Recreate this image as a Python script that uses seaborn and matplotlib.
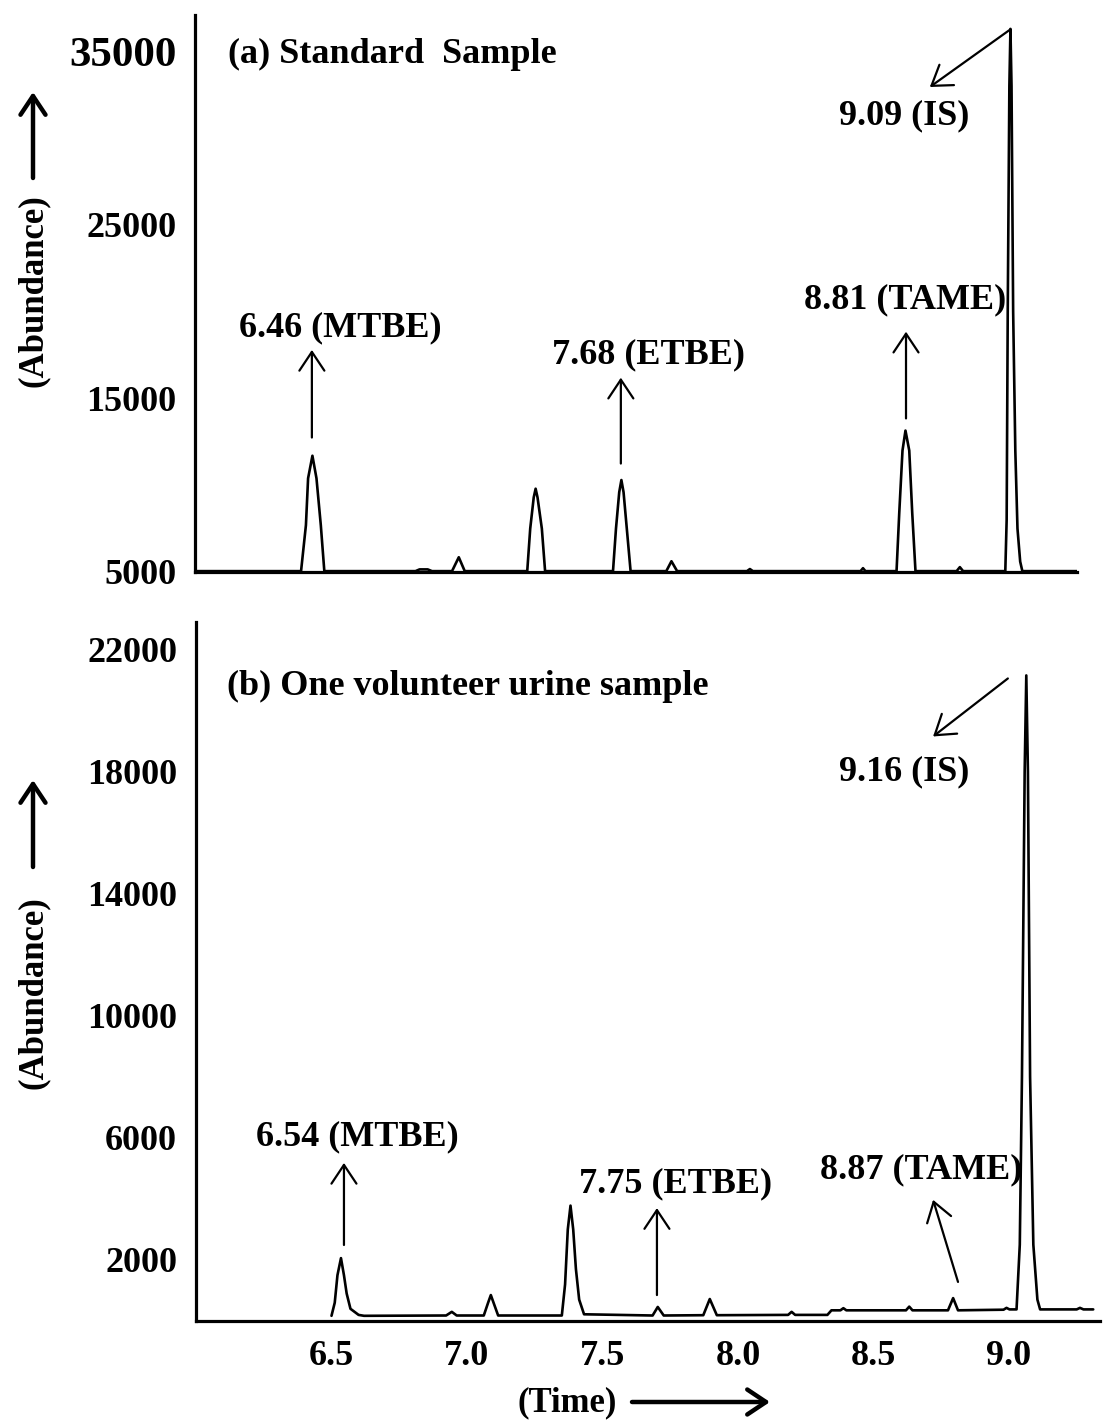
import matplotlib
matplotlib.use("Agg")
import matplotlib.pyplot as plt
import seaborn as sns
import pandas as pd

# ---------------- data ----------------
# (a) Standard sample: retention time (min) vs abundance
time_a = [6.000, 6.392, 6.410, 6.418, 6.434, 6.449, 6.465, 6.478,
          6.815, 6.830, 6.860, 6.876, 6.950, 6.975, 6.997,
          7.228, 7.239, 7.252, 7.259, 7.266, 7.282, 7.294,
          7.545, 7.556, 7.568, 7.576, 7.584, 7.596, 7.610,
          7.742, 7.761, 7.782, 8.040, 8.051, 8.062, 8.460, 8.469, 8.478,
          8.593, 8.603, 8.615, 8.626, 8.640, 8.651, 8.663,
          8.815, 8.827, 8.839,
          8.995, 9.000, 9.004, 9.010, 9.014, 9.018, 9.024, 9.032, 9.040, 9.050, 9.058,
          9.260]
abund_a = [5050, 5050, 7700, 10400, 11700, 10400, 7700, 5050,
           5050, 5150, 5150, 5050, 5050, 5850, 5050,
           5050, 7500, 9300, 9800, 9300, 7500, 5050,
           5050, 7500, 9600, 10300, 9600, 7500, 5050,
           5050, 5620, 5050, 5050, 5170, 5050, 5050, 5220, 5050,
           5050, 8400, 12000, 13150, 12000, 8400, 5050,
           5050, 5280, 5050,
           5050, 8000, 20000, 33000, 36300, 33000, 20000, 12000, 7500, 5600, 5050,
           5050]

# (b) One volunteer urine sample
time_b = [6.500, 6.512, 6.522, 6.535, 6.546, 6.556, 6.570, 6.600, 6.620,
          6.923, 6.944, 6.962,
          7.062, 7.078, 7.088, 7.098, 7.115,
          7.350, 7.362, 7.372, 7.382, 7.392, 7.402, 7.414, 7.432,
          7.685, 7.704, 7.726,
          7.872, 7.896, 7.922,
          8.185, 8.198, 8.211, 8.330, 8.345,
          8.378, 8.389, 8.400, 8.620, 8.632, 8.644,
          8.775, 8.794, 8.812,
          8.980, 8.991, 9.002,
          9.028, 9.040, 9.048, 9.058, 9.064, 9.070, 9.078, 9.090, 9.105, 9.115,
          9.250, 9.262, 9.275, 9.311]
abund_b = [170, 600, 1500, 2060, 1500, 900, 400, 200, 170,
           180, 300, 180,
           180, 600, 850, 600, 180,
           180, 1200, 3000, 3780, 3000, 1700, 700, 220,
           180, 460, 180,
           190, 720, 190,
           200, 300, 200, 200, 350,
           350, 420, 350, 350, 470, 350,
           350, 750, 350,
           370, 430, 380,
           380, 2500, 8000, 18000, 21150, 18000, 8000, 2500, 700, 380,
           380, 430, 380, 380]

# tick values / labels
x_ticks = [6.0, 6.5, 7.0, 7.5, 8.0, 8.5, 9.0]
x_labels_b = ["", "6.5", "7.0", "7.5", "8.0", "8.5", "9.0"]
y_ticks_a = [5000, 10000, 15000, 20000, 25000, 30000, 35000]
y_labels_a = ["5000", "", "15000", "", "25000", "", "35000"]
y_ticks_b = [0, 2000, 4000, 6000, 8000, 10000, 12000, 14000, 16000, 18000, 20000, 22000]
y_labels_b = ["", "2000", "", "6000", "", "10000", "", "14000", "", "18000", "", "22000"]

# peak annotations: text, text position, arrow tail, arrow head
ann_a = [("6.46 (MTBE)", (6.536, 19100), (6.432, 12750), (6.432, 17800)),
         ("7.68 (ETBE)", (7.678, 17500), (7.574, 11250), (7.574, 16200)),
         ("8.81 (TAME)", (8.624, 20700), (8.628, 13850), (8.628, 18850)),
         ("9.09 (IS)",   (8.620, 31300), (9.012, 36250), (8.716, 32950))]
ann_b = [("6.54 (MTBE)", (6.594, 6050), (6.546, 2490), (6.546, 5180)),
         ("7.75 (ETBE)", (7.771, 4500), (7.701, 850), (7.701, 3700)),
         ("8.87 (TAME)", (8.675, 4950), (8.812, 1280), (8.720, 3970)),
         ("9.16 (IS)",   (8.613, 18000), (8.996, 21050), (8.720, 19150))]

title_a = "(a) Standard  Sample"
title_b = "(b) One volunteer urine sample"

# ---------------- style ----------------
sns.set_theme(style="white")
plt.rcParams["font.family"] = ["Liberation Serif", "DejaVu Serif"]
plt.rcParams["font.weight"] = "bold"
for k in ("text.color", "axes.labelcolor", "xtick.color", "ytick.color",
          "axes.edgecolor"):
    plt.rcParams[k] = "black"

W, H = 1108, 1420
fig = plt.figure(figsize=(W / 100, H / 100), dpi=100)


def fx(px):
    return px / W


def fy(py):
    return 1 - py / H


ax_a = fig.add_axes([fx(195), fy(572), fx(1077) - fx(195), fy(15) - fy(572)])
ax_b = fig.add_axes([fx(196), fy(1321), fx(1100) - fx(196), fy(622) - fy(1321)])

df_a = pd.DataFrame({"Time": time_a, "Abundance": abund_a})
df_b = pd.DataFrame({"Time": time_b, "Abundance": abund_b})
sns.lineplot(data=df_a, x="Time", y="Abundance", ax=ax_a, color="black",
             lw=1.9, estimator=None, sort=False)
sns.lineplot(data=df_b, x="Time", y="Abundance", ax=ax_b, color="black",
             lw=1.9, estimator=None, sort=False)

ax_a.set_xlim(6.0, 9.26)
ax_a.set_ylim(5000, 37100)
ax_b.set_xlim(6.0, 9.336)
ax_b.set_ylim(0, 22900)

TICK_FS = 26
for ax in (ax_a, ax_b):
    for s in ("top", "right"):
        ax.spines[s].set_visible(False)
    for s in ("left", "bottom"):
        ax.spines[s].set_linewidth(2.3)
        ax.spines[s].set_color("black")
    ax.set_xlabel("")
    ax.set_ylabel("")
    ax.tick_params(axis="both", direction="out", length=7.5, width=1.6,
                   color="black", labelcolor="black", labelsize=TICK_FS, pad=6)
    ax.set_xticks(x_ticks)
    ax.grid(False)

ax_a.set_xticklabels([""] * len(x_ticks))
ax_b.set_xticklabels(x_labels_b, fontweight="bold")
ax_a.set_yticks(y_ticks_a)
ax_a.set_yticklabels(y_labels_a, fontweight="bold")
ax_b.set_yticks(y_ticks_b)
ax_b.set_yticklabels(y_labels_b, fontweight="bold")
ax_a.get_yticklabels()[-1].set_fontsize(31)

ANN_FS = 26
arrow_thin = dict(arrowstyle="->, head_length=0.45, head_width=0.3", lw=1.6,
                  color="black", shrinkA=0, shrinkB=0, mutation_scale=30)
for ax, anns in ((ax_a, ann_a), (ax_b, ann_b)):
    for txt, tpos, tail, head in anns:
        ax.text(tpos[0], tpos[1], txt, ha="center", va="center",
                fontsize=ANN_FS, fontweight="bold", color="black")
        ax.annotate("", xy=head, xytext=tail, arrowprops=arrow_thin)

fig.text(fx(228), fy(54), title_a, ha="left", va="center", fontsize=26,
         fontweight="bold", color="black")
fig.text(fx(227), fy(686), title_b, ha="left", va="center", fontsize=26,
         fontweight="bold", color="black")

# axis labels with arrows
arrow_thick = dict(arrowstyle="->, head_length=0.45, head_width=0.3", lw=3.2,
                   color="black", shrinkA=0, shrinkB=0, mutation_scale=30)
fig.text(fx(33), fy(291), "(Abundance)", rotation=90, ha="center", va="center",
         fontsize=25, fontweight="bold", color="black")
fig.text(fx(33), fy(993), "(Abundance)", rotation=90, ha="center", va="center",
         fontsize=25, fontweight="bold", color="black")
fig.text(fx(567), fy(1403), "(Time)", ha="center", va="center",
         fontsize=25, fontweight="bold", color="black")
ax_a.annotate("", xy=(fx(33), fy(92)), xytext=(fx(33), fy(178)),
              xycoords="figure fraction", textcoords="figure fraction",
              arrowprops=arrow_thick, annotation_clip=False)
ax_b.annotate("", xy=(fx(33), fy(780)), xytext=(fx(33), fy(867)),
              xycoords="figure fraction", textcoords="figure fraction",
              arrowprops=arrow_thick, annotation_clip=False)
ax_b.annotate("", xy=(fx(770), fy(1402)), xytext=(fx(632), fy(1402)),
              xycoords="figure fraction", textcoords="figure fraction",
              arrowprops=arrow_thick, annotation_clip=False)

fig.savefig("out.png", dpi=100, facecolor="white")
